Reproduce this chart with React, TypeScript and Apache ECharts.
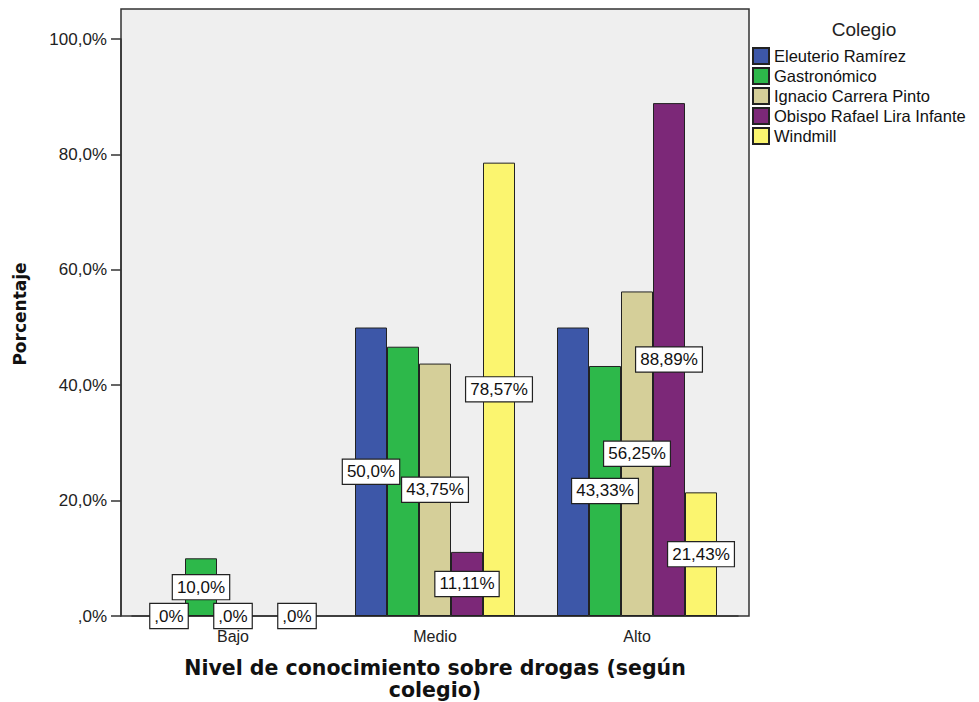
import React, { useEffect, useRef } from "react";
import * as echarts from "echarts";

const categories = ["Bajo", "Medio", "Alto"];
const seriesNames = [
  "Eleuterio Ramírez",
  "Gastronómico",
  "Ignacio Carrera Pinto",
  "Obispo Rafael Lira Infante",
  "Windmill",
];
const eleuterio = [0, 50.0, 50.0];
const gastronomico = [10.0, 46.67, 43.33];
const ignacio = [0, 43.75, 56.25];
const obispo = [null, 11.11, 88.89];
const windmill = [0, 78.57, 21.43];
// labels hidden in the reference (overlapped): [seriesIndex, categoryIndex]
const hiddenLabels = [
  [1, 1],
  [0, 2],
];
const colors = ["#3d57a8", "#2db84a", "#d5cf99", "#7c2878", "#fbf56f"];

const fmt = (v: number) => {
  let s = Number.isInteger(v) ? v.toFixed(1) : v.toFixed(2);
  s = s.replace(".", ",");
  if (s.startsWith("0,")) s = s.slice(1);
  return s + "%";
};

export default function App() {
  const ref = useRef<HTMLDivElement>(null);
  useEffect(() => {
    if (!ref.current) return;
    const chart = echarts.init(ref.current, undefined, { renderer: "svg" });
    const all = [eleuterio, gastronomico, ignacio, obispo, windmill];
    const series = all.map((arr, si) => ({
      name: seriesNames[si],
      type: "bar",
      barWidth: 32,
      barGap: "0%",
      itemStyle: { color: colors[si], borderColor: "#222", borderWidth: 1 },
      label: {
        show: true,
        position: "inside",
        formatter: (p: any) => fmt(p.value),
        backgroundColor: "#fff",
        borderColor: "#222",
        borderWidth: 1.2,
        padding: [4, 4, 3, 4],
        color: "#111",
        fontSize: 17,
        lineHeight: 17,
        fontFamily: "Liberation Sans",
      },
      data: arr.map((v, ci) => {
        if (v === null) return null;
        const hide = hiddenLabels.some(([a, b]) => a === si && b === ci);
        return hide ? { value: v, label: { show: false } } : v;
      }),
      z: 3,
    }));
    chart.setOption({
      animation: false,
      textStyle: { fontFamily: "Liberation Sans" },
      grid: {
        left: 132,
        right: 241,
        top: 39,
        bottom: 86,
        containLabel: false,
        outerBoundsMode: "none",
      },
      graphic: [
        {
          type: "rect",
          shape: { x: 121, y: 9, width: 628, height: 607 },
          style: { fill: "#efefef", stroke: "#333", lineWidth: 1.5 },
          z: -10,
          silent: true,
        },
        {
          type: "text",
          x: 864,
          y: 29,
          style: {
            text: "Colegio",
            fontSize: 19,
            fontFamily: "Liberation Sans",
            fill: "#222",
            textAlign: "center",
            textVerticalAlign: "middle",
          },
        },
        {
          type: "text",
          x: 20,
          y: 314,
          rotation: Math.PI / 2,
          style: {
            text: "Porcentaje",
            fontSize: 17,
            fontWeight: "bold",
            fontFamily: "DejaVu Sans",
            fill: "#111",
            textAlign: "center",
            textVerticalAlign: "middle",
          },
        },
      ],
      legend: {
        orient: "vertical",
        left: 752,
        top: 47,
        padding: 0,
        itemWidth: 16,
        itemHeight: 16,
        itemGap: 2,
        icon: "rect",
        textStyle: {
          fontSize: 16.5,
          lineHeight: 16,
          color: "#111",
          fontFamily: "Liberation Sans",
        },
        data: seriesNames,
      },
      xAxis: {
        type: "category",
        data: categories,
        name: "Nivel de conocimiento sobre drogas (según\ncolegio)",
        nameLocation: "middle",
        nameGap: 41,
        nameTextStyle: {
          fontFamily: "DejaVu Sans",
          fontWeight: "bold",
          fontSize: 20.5,
          color: "#111",
          lineHeight: 22,
        },
        axisLine: { lineStyle: { color: "#333", width: 1.5 } },
        axisTick: { alignWithLabel: true, length: 6, lineStyle: { color: "#333", width: 1.5 } },
        axisLabel: { fontSize: 16, color: "#222", margin: 12 },
      },
      yAxis: {
        type: "value",
        min: 0,
        max: 100,
        interval: 20,
        offset: 11,
        axisLine: { show: true, lineStyle: { color: "#333", width: 1.5 } },
        axisTick: { show: true, length: 10, lineStyle: { color: "#333", width: 1.5 } },
        axisLabel: { formatter: (v: number) => fmt(v), fontSize: 17, color: "#222", margin: 14 },
        splitLine: { show: false },
      },
      series,
    });
    return () => chart.dispose();
  }, []);
  return (
    <div
      ref={ref}
      style={{ position: "absolute", left: 0, top: 0, width: 979, height: 702 }}
    />
  );
}
